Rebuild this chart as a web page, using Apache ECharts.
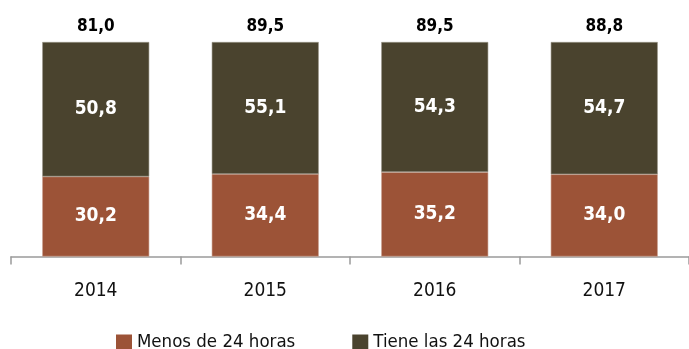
<!DOCTYPE html>
<html>
<head>
<meta charset="utf-8">
<script src="https://cdn.jsdelivr.net/npm/echarts@6/dist/echarts.min.js"></script>
<style>
  html, body { margin: 0; padding: 0; background: #ffffff; }
  #chart { width: 689px; height: 349px; }
</style>
</head>
<body>
<div id="chart"></div>
<script>
// Años y valores de cada grupo
const years = ['2014', '2015', '2016', '2017'];
const menos24 = [30.2, 34.4, 35.2, 34.0];
const tiene24 = [50.8, 55.1, 54.3, 54.7];
const totals = [81.0, 89.5, 89.5, 88.8];
const seriesNames = ['Menos de 24 horas', 'Tiene las 24 horas'];

const FONT = '"DejaVu Sans Condensed", "Liberation Sans", sans-serif';
const fmt = v => v.toFixed(1).replace('.', ',');

// Each bar is drawn as the share of its year's total (100 % stacked),
// while the labels show the original values.
const share = (arr, other) => arr.map((v, i) => v / (v + other[i]) * 100);
const menosShare = share(menos24, tiene24);
const tieneShare = share(tiene24, menos24);

const chart = echarts.init(document.getElementById('chart'), null, { renderer: 'canvas' });

const innerLabel = raw => ({
  show: true,
  position: 'inside',
  color: '#ffffff',
  fontFamily: FONT,
  fontWeight: 'bold',
  fontSize: 19,
  formatter: p => fmt(raw[p.dataIndex])
});

chart.setOption({
  animation: false,
  backgroundColor: '#ffffff',
  grid: { left: 11, right: -7, top: 42, bottom: 92.5, containLabel: false },
  legend: {
    data: seriesNames,
    left: 116,
    top: 333,
    padding: 0,
    itemWidth: 16,
    itemHeight: 16,
    itemGap: 57,
    icon: 'rect',
    itemStyle: { borderWidth: 0 },
    textStyle: { fontFamily: FONT, fontSize: 18.5, color: '#111111' }
  },
  xAxis: {
    type: 'category',
    data: years,
    axisLine: { lineStyle: { color: '#9a9a9a', width: 1.5 } },
    axisTick: { show: true, length: 8, lineStyle: { color: '#9a9a9a', width: 1.5 } },
    axisLabel: { margin: 25, color: '#111111', fontFamily: FONT, fontSize: 19 }
  },
  yAxis: {
    type: 'value',
    min: 0,
    max: 100,
    show: false,
    splitLine: { show: false }
  },
  series: [
    {
      name: seriesNames[0],
      type: 'bar',
      stack: 'total',
      barWidth: 107,
      data: menosShare,
      itemStyle: { color: '#9c5337', borderColor: '#c9a08e', borderWidth: 0.6 },
      label: innerLabel(menos24)
    },
    {
      name: seriesNames[1],
      type: 'bar',
      stack: 'total',
      barWidth: 107,
      data: tieneShare,
      itemStyle: { color: '#4a432e', borderColor: '#9a9588', borderWidth: 0.6 },
      label: innerLabel(tiene24)
    },
    {
      // zero-height cap that carries the year total above each bar
      name: 'Total',
      type: 'bar',
      stack: 'total',
      barWidth: 107,
      data: years.map(() => 0),
      itemStyle: { color: 'rgba(0,0,0,0)' },
      label: {
        show: true,
        position: 'top',
        distance: 7,
        color: '#000000',
        fontFamily: FONT,
        fontWeight: 'bold',
        fontSize: 17,
        formatter: p => fmt(totals[p.dataIndex])
      }
    }
  ]
});
</script>
</body>
</html>
